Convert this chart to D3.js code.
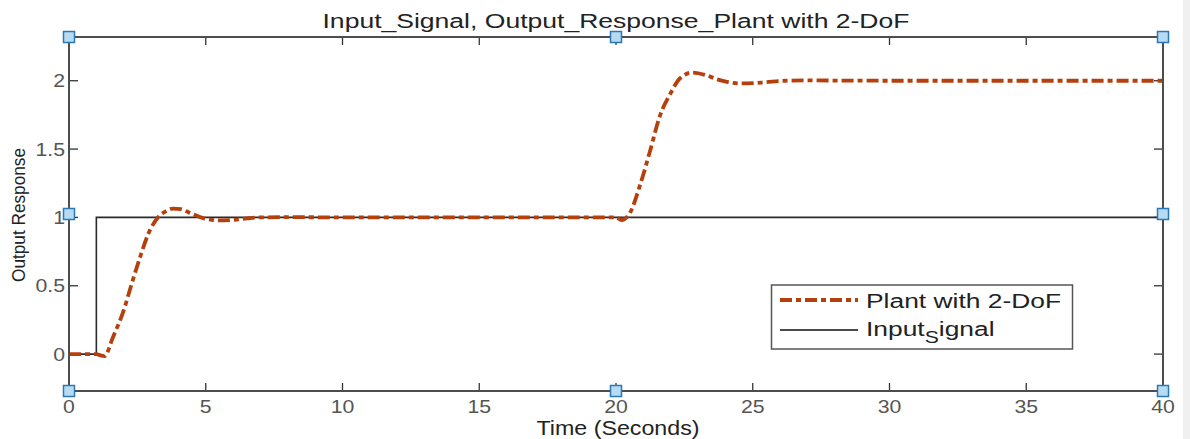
<!DOCTYPE html>
<html><head><meta charset="utf-8">
<script src="https://cdn.jsdelivr.net/npm/d3@7"></script>
<style>
html,body{margin:0;padding:0;background:#fff;}
svg{display:block;font-family:"Liberation Sans",Arial,sans-serif;}
</style></head>
<body>
<svg id="c" width="1190" height="439"></svg>
<script>
// ---- data ----
const titleText = "Input_Signal, Output_Response_Plant with 2-DoF";
const xLabel = "Time (Seconds)";
const yLabel = "Output Response";
const xTicks = [0,5,10,15,20,25,30,35,40];
const yTicks = [0,0.5,1,1.5,2];
const yTickLabels = ["0","0.5","1","1.5","2"];
const inputT = [0, 1, 1, 40];
const inputV = [0, 0, 1, 1];
const outT = [0,0.5,1.0,1.15,1.3,1.6,2.0,2.3,2.6,2.9,3.25,3.5,3.8,4.1,4.4,4.9,5.5,6.0,6.5,7.0,8,10,15,19.5,20.0,20.2,20.5,20.9,21.25,21.6,22.0,22.35,22.8,23.3,23.7,24.1,24.5,25,25.5,26.2,27,30,35,40];
const outV = [0,0,0,-0.01,-0.015,0.12,0.32,0.52,0.71,0.88,1.0,1.04,1.065,1.06,1.035,0.995,0.978,0.982,0.993,1.0,1.002,1.0,1.0,1.0,1.0,0.98,1.03,1.25,1.49,1.74,1.91,2.02,2.06,2.04,2.01,1.99,1.98,1.982,1.99,2.0,2.002,2.0,2.0,2.0];
const legendNames = ["Plant with 2-DoF", "Input"];

const svg = d3.select("#c");
const L=69, R=1163, T=37, B=391;
const x = d3.scaleLinear().domain([0,40]).range([L,R]);
const y = d3.scaleLinear().domain([-0.27,2.32]).range([B,T]);
const SX = 1.18;  // horizontal stretch of tick text
const LX = 1.32;  // horizontal stretch of legend text

// right gray strip
svg.append("rect").attr("x",1183).attr("y",0).attr("width",7).attr("height",439).attr("fill","#f0f0f0");

const axisCol="#4d4d4d";
// ticks (inward, mirrored)
const tk=svg.append("g").attr("stroke","#333").attr("stroke-width",1.3);
xTicks.forEach(t=>{
  tk.append("line").attr("x1",x(t)).attr("x2",x(t)).attr("y1",B).attr("y2",B-8);
  tk.append("line").attr("x1",x(t)).attr("x2",x(t)).attr("y1",T).attr("y2",T+8);
});
yTicks.forEach(t=>{
  tk.append("line").attr("y1",y(t)).attr("y2",y(t)).attr("x1",L).attr("x2",L+9);
  tk.append("line").attr("y1",y(t)).attr("y2",y(t)).attr("x1",R).attr("x2",R-9);
});

// tick labels
const lab=svg.append("g").attr("fill","#555").attr("font-size",18);
xTicks.forEach(t=>{
  lab.append("text").attr("transform",`translate(${x(t)},${B+22}) scale(${SX},1)`)
    .attr("text-anchor","middle").text(t);
});
yTicks.forEach((t,i)=>{
  lab.append("text").attr("transform",`translate(${L-4},${y(t)+6.5}) scale(${SX},1)`)
    .attr("text-anchor","end").text(yTickLabels[i]);
});

// input signal
const inputData = inputT.map((t,i)=>[t,inputV[i]]);
svg.append("path").datum(inputData)
  .attr("d", d3.line().x(d=>x(d[0])).y(d=>y(d[1])))
  .attr("fill","none").attr("stroke","#2a2a2a").attr("stroke-width",1.6);

// output
const outData = outT.map((t,i)=>[t,outV[i]]);
svg.append("path").datum(outData)
  .attr("d", d3.line().curve(d3.curveMonotoneX).x(d=>x(d[0])).y(d=>y(d[1])))
  .attr("fill","none").attr("stroke","#b5400c").attr("stroke-width",3.8)
  .attr("stroke-dasharray","12,4,5,4");

// axes box
svg.append("rect").attr("x",L).attr("y",T).attr("width",R-L).attr("height",B-T)
  .attr("fill","none").attr("stroke",axisCol).attr("stroke-width",2);

// title and labels
svg.append("text").attr("x",(L+R)/2).attr("y",28).attr("text-anchor","middle")
  .attr("font-size",20).attr("fill","#222")
  .attr("textLength",587).attr("lengthAdjust","spacingAndGlyphs").text(titleText);
svg.append("text").attr("x",618).attr("y",435).attr("text-anchor","middle")
  .attr("font-size",20).attr("fill","#222")
  .attr("textLength",163).attr("lengthAdjust","spacingAndGlyphs").text(xLabel);
svg.append("text").attr("transform","translate(25,215) rotate(-90)")
  .attr("text-anchor","middle").attr("font-size",19).attr("fill","#222")
  .attr("textLength",134).attr("lengthAdjust","spacingAndGlyphs").text(yLabel);

// legend
const lg=svg.append("g");
lg.append("rect").attr("x",771.5).attr("y",285).attr("width",301).attr("height",64)
  .attr("fill","#fff").attr("stroke","#555").attr("stroke-width",1.5);
lg.append("line").attr("x1",780).attr("x2",858).attr("y1",300).attr("y2",300)
  .attr("stroke","#b5400c").attr("stroke-width",3.8).attr("stroke-dasharray","12,4,5,4");
lg.append("line").attr("x1",780).attr("x2",858).attr("y1",330).attr("y2",330)
  .attr("stroke","#111").attr("stroke-width",1.5);
lg.append("text").attr("transform",`translate(866,308) scale(${LX},1)`)
  .attr("font-size",20).attr("fill","#222").text(legendNames[0]);
const t2=lg.append("text").attr("transform",`translate(866,336) scale(${LX},1)`)
  .attr("font-size",20).attr("fill","#222");
t2.append("tspan").text(legendNames[1]);
t2.append("tspan").attr("font-size",16).attr("dy",7).text("S");
t2.append("tspan").attr("dy",-7).text("ignal");

// selection handles
const hx=[L,(L+R)/2,R], hy=[T,(T+B)/2,B];
const hs=svg.append("g");
hx.forEach((px,i)=>hy.forEach((py,j)=>{
  if(i===1&&j===1) return;
  hs.append("rect").attr("x",px-5.5).attr("y",py-5.5).attr("width",11).attr("height",11)
    .attr("fill","#b7dbf2").attr("stroke","#2a78b8").attr("stroke-width",1.5);
}));
</script>
</body></html>
